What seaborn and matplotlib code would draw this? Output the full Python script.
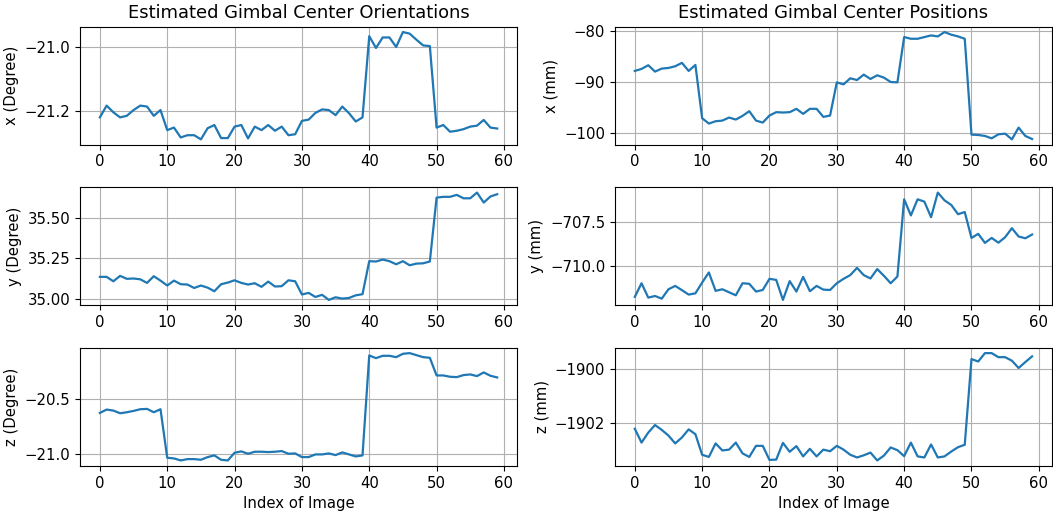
import numpy as np
import pandas as pd
import matplotlib
matplotlib.use("Agg")
import matplotlib.pyplot as plt
import seaborn as sns

index = list(range(60))

ori_x = [-21.221, -21.184, -21.205, -21.221, -21.216, -21.198, -21.184, -21.187, -21.216, -21.198,
         -21.261, -21.253, -21.284, -21.277, -21.277, -21.290, -21.255, -21.245, -21.286, -21.286,
         -21.250, -21.245, -21.287, -21.250, -21.261, -21.245, -21.263, -21.250, -21.277, -21.274,
         -21.232, -21.228, -21.207, -21.196, -21.198, -21.214, -21.187, -21.208, -21.234, -21.221,
         -20.966, -21.003, -20.970, -20.970, -21.000, -20.953, -20.958, -20.977, -20.995, -20.997,
         -21.253, -21.245, -21.266, -21.263, -21.258, -21.250, -21.247, -21.229, -21.253, -21.256]

ori_y = [35.137, 35.137, 35.110, 35.143, 35.125, 35.127, 35.122, 35.100, 35.141, 35.114,
         35.084, 35.114, 35.092, 35.090, 35.069, 35.084, 35.071, 35.049, 35.092, 35.102,
         35.116, 35.100, 35.090, 35.098, 35.076, 35.108, 35.078, 35.080, 35.116, 35.110,
         35.029, 35.039, 35.014, 35.027, 34.996, 35.012, 35.004, 35.008, 35.024, 35.031,
         35.233, 35.231, 35.243, 35.233, 35.214, 35.233, 35.208, 35.218, 35.220, 35.231,
         35.622, 35.627, 35.627, 35.639, 35.618, 35.618, 35.653, 35.592, 35.629, 35.643]

ori_z = [-20.628, -20.598, -20.607, -20.631, -20.622, -20.610, -20.595, -20.592, -20.622, -20.595,
         -21.030, -21.036, -21.054, -21.042, -21.042, -21.048, -21.024, -21.009, -21.048, -21.054,
         -20.985, -20.973, -20.994, -20.976, -20.976, -20.979, -20.976, -20.970, -20.994, -20.991,
         -21.024, -21.024, -21.000, -21.000, -20.991, -21.006, -20.982, -21.000, -21.018, -21.009,
         -20.113, -20.137, -20.116, -20.116, -20.128, -20.098, -20.092, -20.110, -20.128, -20.134,
         -20.292, -20.292, -20.304, -20.307, -20.289, -20.283, -20.298, -20.265, -20.295, -20.310]

pos_x = [-87.84, -87.45, -86.73, -87.97, -87.39, -87.26, -86.93, -86.27, -87.84, -86.67,
         -97.06, -98.10, -97.65, -97.52, -96.93, -97.32, -96.60, -95.69, -97.52, -97.91,
         -96.54, -95.88, -95.95, -95.88, -95.23, -96.21, -95.23, -95.23, -96.80, -96.54,
         -90.07, -90.46, -89.28, -89.61, -88.56, -89.41, -88.69, -89.15, -90.00, -90.07,
         -81.24, -81.57, -81.57, -81.24, -80.92, -81.11, -80.26, -80.78, -81.11, -81.57,
         -100.26, -100.33, -100.52, -100.98, -100.20, -100.07, -101.18, -98.89, -100.52, -101.11]

pos_y = [-711.72, -710.95, -711.76, -711.67, -711.82, -711.29, -711.10, -711.34, -711.59, -711.52,
         -710.91, -710.34, -711.38, -711.29, -711.46, -711.63, -710.95, -710.98, -711.42, -711.33,
         -710.70, -710.76, -711.89, -710.83, -711.42, -710.59, -711.40, -711.10, -711.31, -711.33,
         -710.95, -710.70, -710.49, -710.08, -710.49, -710.68, -710.15, -710.53, -710.95, -710.57,
         -706.21, -707.12, -706.21, -706.34, -707.22, -705.83, -706.27, -706.53, -707.05, -706.93,
         -708.39, -708.16, -708.67, -708.39, -708.66, -708.35, -707.84, -708.31, -708.41, -708.20]

pos_z = [-1902.21, -1902.72, -1902.35, -1902.07, -1902.25, -1902.46, -1902.75, -1902.53, -1902.23, -1902.41,
         -1903.17, -1903.25, -1902.75, -1903.01, -1902.98, -1902.72, -1903.12, -1903.25, -1902.84, -1902.84,
         -1903.36, -1903.35, -1902.73, -1903.06, -1902.85, -1903.23, -1902.95, -1903.23, -1902.98, -1903.04,
         -1902.84, -1902.98, -1903.17, -1903.27, -1903.19, -1903.09, -1903.38, -1903.20, -1902.90, -1903.00,
         -1903.22, -1902.72, -1903.23, -1903.27, -1902.79, -1903.27, -1903.23, -1903.05, -1902.89, -1902.80,
         -1899.63, -1899.72, -1899.41, -1899.41, -1899.56, -1899.56, -1899.69, -1899.96, -1899.74, -1899.53]

col_titles = ["Estimated Gimbal Center Orientations", "Estimated Gimbal Center Positions"]
left_labels = ["x (Degree)", "y (Degree)", "z (Degree)"]
right_labels = ["x (mm)", "y (mm)", "z (mm)"]
x_label = "Index of Image"

plt.rcParams["font.size"] = 10.7

fig, axes = plt.subplots(3, 2, figsize=(10.53, 5.13), dpi=100)
series = [[ori_x, pos_x], [ori_y, pos_y], [ori_z, pos_z]]
for r in range(3):
    for c in range(2):
        ax = axes[r, c]
        df = pd.DataFrame({"i": index, "v": series[r][c]})
        sns.lineplot(data=df, x="i", y="v", ax=ax, color="#1f77b4", linewidth=1.6)
        ax.grid(True)
        ax.set_xlabel(x_label if r == 2 else "")
        ax.set_ylabel(left_labels[r] if c == 0 else right_labels[r])
        ax.set_xticks([0, 10, 20, 30, 40, 50, 60])
        if r == 0:
            ax.set_title(col_titles[c], fontsize=12.9)

axes[1, 0].set_yticks([35.0, 35.25, 35.5])
axes[1, 0].set_yticklabels(["35.00", "35.25", "35.50"])
axes[1, 1].set_yticks([-710.0, -707.5])
axes[2, 0].set_yticks([-21.0, -20.5])
axes[0, 0].set_yticks([-21.2, -21.0])
axes[0, 1].set_yticks([-100, -90, -80])
axes[2, 1].set_yticks([-1902, -1900])

fig.subplots_adjust(left=0.076, right=0.999, bottom=0.092, top=0.948, wspace=0.224, hspace=0.36)
fig.savefig("out.png", dpi=100)
